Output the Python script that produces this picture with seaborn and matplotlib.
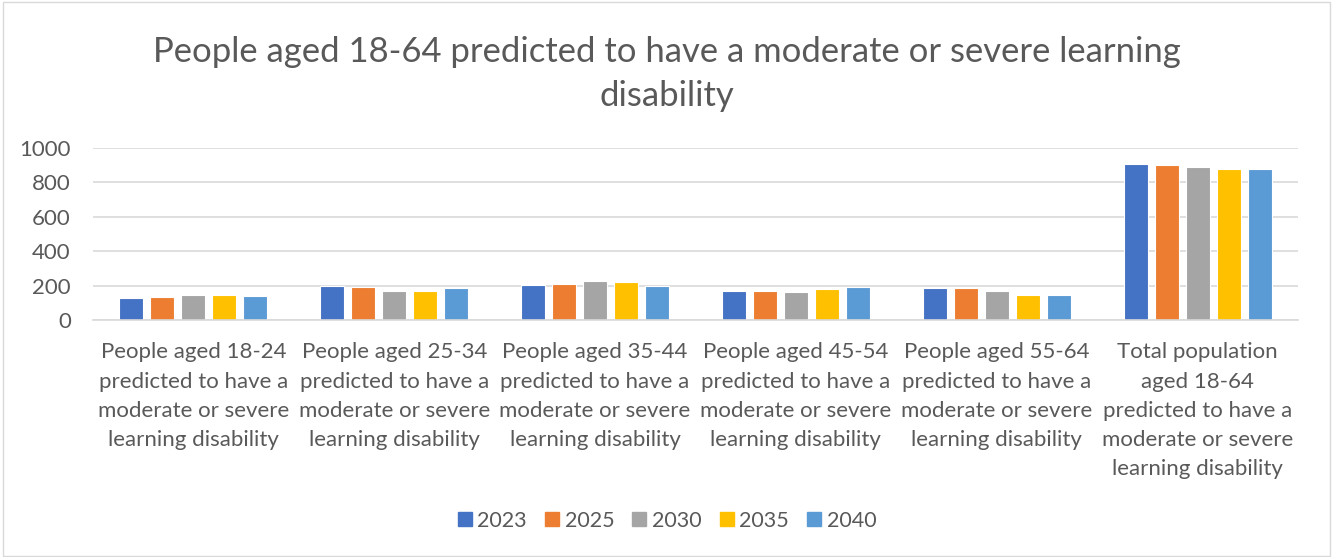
import matplotlib
matplotlib.use("Agg")
import matplotlib.pyplot as plt
import seaborn as sns
import pandas as pd
from matplotlib.patches import Rectangle

categories = [
    "People aged 18-24\npredicted to have a\nmoderate or severe\nlearning disability",
    "People aged 25-34\npredicted to have a\nmoderate or severe\nlearning disability",
    "People aged 35-44\npredicted to have a\nmoderate or severe\nlearning disability",
    "People aged 45-54\npredicted to have a\nmoderate or severe\nlearning disability",
    "People aged 55-64\npredicted to have a\nmoderate or severe\nlearning disability",
    "Total population\naged 18-64\npredicted to have a\nmoderate or severe\nlearning disability",
]
years = ["2023", "2025", "2030", "2035", "2040"]
v2023 = [129, 199, 207, 170, 189, 905]
v2025 = [133, 191, 212, 168, 185, 902]
v2030 = [147, 170, 228, 164, 170, 890]
v2035 = [147, 172, 220, 180, 149, 878]
v2040 = [141, 187, 201, 193, 147, 875]
colors = ["#4472C4", "#ED7D31", "#A5A5A5", "#FFC000", "#5B9BD5"]

series = [v2023, v2025, v2030, v2035, v2040]
rows = []
for y, vals in zip(years, series):
    for c, v in zip(categories, vals):
        rows.append({"category": c, "year": y, "value": v})
df = pd.DataFrame(rows)

sns.set_style("white")
plt.rcParams["font.family"] = ["Lato", "DejaVu Sans"]
text_color = "#595959"

fig = plt.figure(figsize=(13.34, 5.57), dpi=100)
ax = fig.add_axes([0.0697, 0.425, 0.9033, 0.3098])

sns.barplot(data=df, x="category", y="value", hue="year", order=categories,
            hue_order=years, palette=colors, width=0.772, gap=0.226,
            edgecolor="white", linewidth=0.8, ax=ax, saturation=1)

ax.set_xlim(-0.5, len(categories) - 0.5)
ax.set_ylim(0, 1000)
ax.set_yticks(range(0, 1001, 200))
ax.yaxis.grid(True, color="#D9D9D9", linewidth=1.2)
ax.set_axisbelow(True)
for s in ["top", "right", "left"]:
    ax.spines[s].set_visible(False)
ax.spines["bottom"].set_color("#D9D9D9")
ax.spines["bottom"].set_linewidth(1.2)
ax.tick_params(axis="both", length=0, labelsize=16, colors=text_color)
ax.tick_params(axis="y", pad=16)
ax.tick_params(axis="x", pad=16)
ax.set_xlabel("")
ax.set_ylabel("")
for lbl in ax.get_xticklabels():
    lbl.set_linespacing(1.57)

ax.legend_.remove()
handles = [Rectangle((0, 0), 1, 1, color=c) for c in colors]
fig.legend(handles, years, loc="center", bbox_to_anchor=(0.5, 0.065), ncol=5,
           frameon=False, fontsize=15.5, labelcolor=text_color,
           handlelength=0.65, handleheight=0.65, handletextpad=0.25,
           columnspacing=0.85)

fig.text(0.5, 0.867, "People aged 18-64 predicted to have a moderate or severe learning\ndisability",
         ha="center", va="center", fontsize=24.9, color=text_color, linespacing=1.47)

fig.patches.append(Rectangle((0.002, 0.002), 0.995, 0.995, transform=fig.transFigure,
                             fill=False, edgecolor="#D9D9D9", linewidth=1))

fig.savefig("out.png", dpi=100)
